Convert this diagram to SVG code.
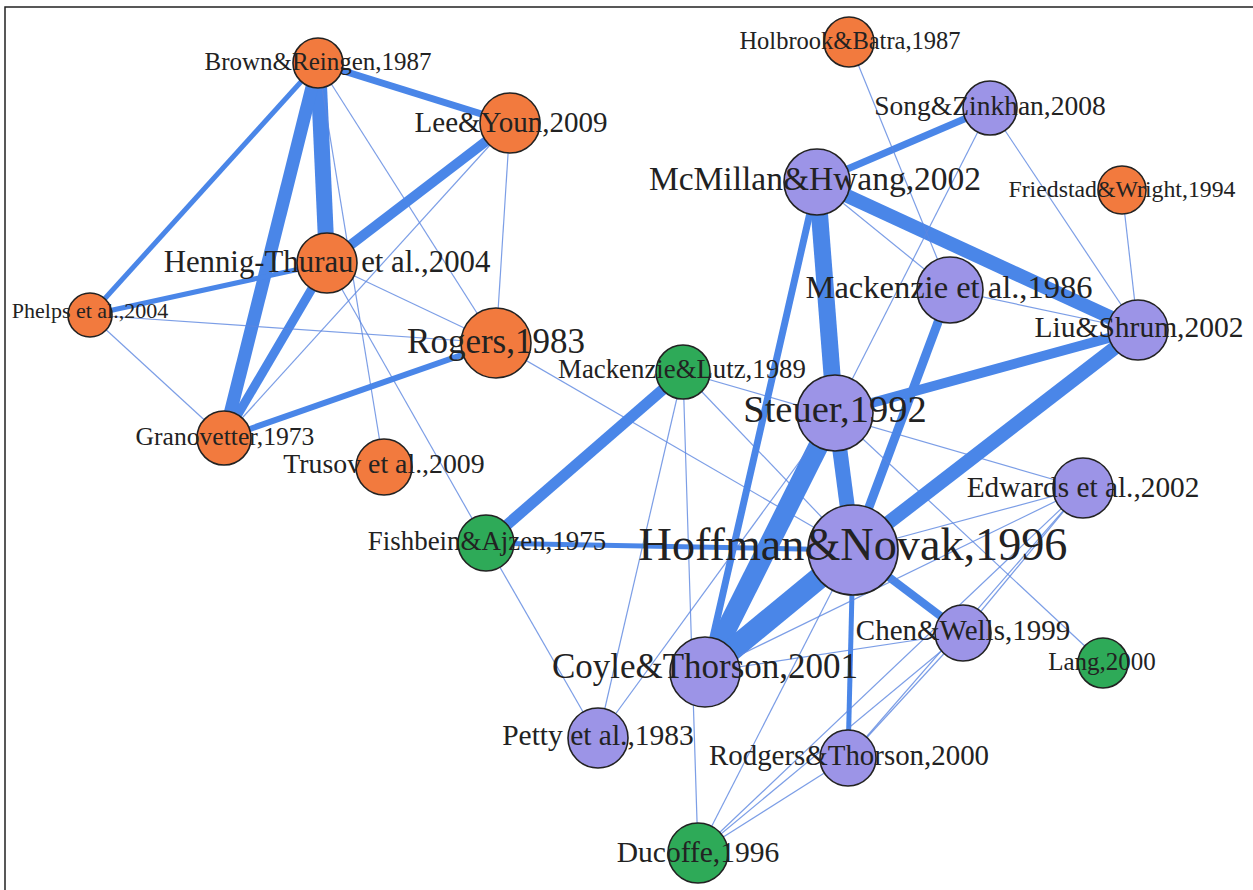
<svg xmlns="http://www.w3.org/2000/svg" width="1253" height="890" viewBox="0 0 1253 890">
<style>
.e{stroke:#4a86e8;fill:none;stroke-linecap:butt}
.t{stroke:#5b86e0;stroke-width:1.2;stroke-opacity:0.8}
.n circle{stroke:#222;stroke-width:1.6}
.o{fill:#f27a3e}.p{fill:#9c94e7}.g{fill:#2eaa58}
text{font-family:"Liberation Serif","Times New Roman",serif;fill:#222;text-anchor:middle}
</style>
<rect width="1253" height="890" fill="#fff"/>
<path d="M5,890 V7 H1253" fill="none" stroke="#222" stroke-width="1.5"/>
<g id="connectors" class="e">
<!-- orange cluster -->
<line x1="318" y1="63" x2="327" y2="263" stroke-width="16"/>
<line x1="318" y1="63" x2="224" y2="438" stroke-width="13"/>
<line x1="318" y1="63" x2="510" y2="123" stroke-width="7"/>
<line x1="318" y1="63" x2="90" y2="315" stroke-width="5"/>
<line class="t" x1="318" y1="63" x2="496" y2="343"/>
<line class="t" x1="318" y1="63" x2="384" y2="467"/>
<line x1="327" y1="263" x2="510" y2="123" stroke-width="10"/>
<line x1="327" y1="263" x2="224" y2="438" stroke-width="9"/>
<line x1="327" y1="263" x2="90" y2="315" stroke-width="5"/>
<line class="t" x1="327" y1="263" x2="496" y2="343"/>
<line class="t" x1="327" y1="263" x2="486" y2="543"/>
<line class="t" x1="510" y1="123" x2="224" y2="438"/>
<line class="t" x1="510" y1="123" x2="496" y2="343"/>
<line class="t" x1="90" y1="315" x2="496" y2="343"/>
<line class="t" x1="90" y1="315" x2="224" y2="438"/>
<line x1="224" y1="438" x2="496" y2="343" stroke-width="6"/>
<line class="t" x1="496" y1="343" x2="853" y2="550"/>
<!-- green / purple -->
<line x1="683" y1="372" x2="486" y2="543" stroke-width="11"/>
<line class="t" x1="683" y1="372" x2="1083" y2="488"/>
<line class="t" x1="683" y1="372" x2="598" y2="738"/>
<line class="t" x1="683" y1="372" x2="698" y2="853"/>
<line class="t" x1="683" y1="372" x2="853" y2="550"/>
<line x1="486" y1="543" x2="853" y2="550" stroke-width="5"/>
<line class="t" x1="486" y1="543" x2="598" y2="738"/>
<line x1="817" y1="182" x2="835" y2="413" stroke-width="17"/>
<line x1="817" y1="182" x2="1138" y2="330" stroke-width="14"/>
<line x1="817" y1="182" x2="990" y2="108" stroke-width="7"/>
<line x1="817" y1="182" x2="705" y2="672" stroke-width="7"/>
<line class="t" x1="817" y1="182" x2="950" y2="290"/>
<line class="t" x1="849" y1="42" x2="950" y2="290"/>
<line class="t" x1="990" y1="108" x2="1138" y2="330"/>
<line class="t" x1="990" y1="108" x2="835" y2="413"/>
<line class="t" x1="1122" y1="190" x2="1138" y2="330"/>
<line class="t" x1="950" y1="290" x2="1138" y2="330"/>
<line x1="950" y1="290" x2="853" y2="550" stroke-width="9"/>
<line x1="835" y1="413" x2="1138" y2="330" stroke-width="10"/>
<line x1="835" y1="413" x2="853" y2="550" stroke-width="15"/>
<line x1="835" y1="413" x2="705" y2="672" stroke-width="20"/>
<line class="t" x1="835" y1="413" x2="1103" y2="663"/>
<line class="t" x1="835" y1="413" x2="598" y2="738"/>
<line x1="853" y1="550" x2="705" y2="672" stroke-width="22"/>
<line x1="853" y1="550" x2="1138" y2="330" stroke-width="14"/>
<line x1="853" y1="550" x2="963" y2="633" stroke-width="8"/>
<line x1="853" y1="550" x2="848" y2="758" stroke-width="5"/>
<line class="t" x1="853" y1="550" x2="1083" y2="488"/>
<line class="t" x1="853" y1="550" x2="698" y2="853"/>
<line class="t" x1="1083" y1="488" x2="705" y2="672"/>
<line class="t" x1="1083" y1="488" x2="963" y2="633"/>
<line class="t" x1="1083" y1="488" x2="848" y2="758"/>
<line class="t" x1="1083" y1="488" x2="698" y2="853"/>
<line class="t" x1="963" y1="633" x2="848" y2="758"/>
<line class="t" x1="963" y1="633" x2="698" y2="853"/>
<line class="t" x1="848" y1="758" x2="698" y2="853"/>
<line class="t" x1="705" y1="672" x2="963" y2="633"/>
</g>
<g id="n-brown" class="n"><circle class="o" cx="318" cy="63" r="25"/><text x="318" y="70" font-size="25">Brown&amp;Reingen,1987</text></g>
<g id="n-lee" class="n"><circle class="o" cx="510" cy="123" r="30"/><text x="511" y="132" font-size="29">Lee&amp;Youn,2009</text></g>
<g id="n-holbrook" class="n"><circle class="o" cx="849" cy="42" r="25"/><text x="850" y="49" font-size="24.5">Holbrook&amp;Batra,1987</text></g>
<g id="n-song" class="n"><circle class="p" cx="990" cy="108" r="27"/><text x="990" y="115" font-size="27.5">Song&amp;Zinkhan,2008</text></g>
<g id="n-mcmillan" class="n"><circle class="p" cx="817" cy="182" r="33"/><text x="815" y="190" font-size="33.5">McMillan&amp;Hwang,2002</text></g>
<g id="n-friedstad" class="n"><circle class="o" cx="1122" cy="190" r="24"/><text x="1122" y="197" font-size="23.8">Friedstad&amp;Wright,1994</text></g>
<g id="n-mackenzie86" class="n"><circle class="p" cx="950" cy="290" r="33"/><text x="949" y="298" font-size="32.5">Mackenzie et al.,1986</text></g>
<g id="n-liu" class="n"><circle class="p" cx="1138" cy="330" r="30"/><text x="1139" y="337" font-size="29.5">Liu&amp;Shrum,2002</text></g>
<g id="n-hennig" class="n"><circle class="o" cx="327" cy="263" r="30"/><text x="327" y="272" font-size="30.8">Hennig-Thurau et al.,2004</text></g>
<g id="n-phelps" class="n"><circle class="o" cx="90" cy="315" r="22"/><text x="90" y="318" font-size="22">Phelps et al.,2004</text></g>
<g id="n-rogers" class="n"><circle class="o" cx="496" cy="343" r="35"/><text x="496" y="353" font-size="35">Rogers,1983</text></g>
<g id="n-granovetter" class="n"><circle class="o" cx="224" cy="438" r="27"/><text x="225" y="445" font-size="25.6">Granovetter,1973</text></g>
<g id="n-trusov" class="n"><circle class="o" cx="384" cy="467" r="28"/><text x="384" y="473" font-size="27.8">Trusov et al.,2009</text></g>
<g id="n-mlutz" class="n"><circle class="g" cx="683" cy="372" r="27"/><text x="682" y="378" font-size="26.8">Mackenzie&amp;Lutz,1989</text></g>
<g id="n-steuer" class="n"><circle class="p" cx="835" cy="413" r="38"/><text x="835" y="422" font-size="38.5">Steuer,1992</text></g>
<g id="n-fishbein" class="n"><circle class="g" cx="486" cy="543" r="28"/><text x="487" y="550" font-size="26.9">Fishbein&amp;Ajzen,1975</text></g>
<g id="n-hoffman" class="n"><circle class="p" cx="853" cy="550" r="45"/><text x="853" y="560" font-size="46.2">Hoffman&amp;Novak,1996</text></g>
<g id="n-edwards" class="n"><circle class="p" cx="1083" cy="488" r="30"/><text x="1083" y="497" font-size="29.3">Edwards et al.,2002</text></g>
<g id="n-chen" class="n"><circle class="p" cx="963" cy="633" r="28"/><text x="963" y="640" font-size="29">Chen&amp;Wells,1999</text></g>
<g id="n-lang" class="n"><circle class="g" cx="1103" cy="663" r="25"/><text x="1102" y="670" font-size="25">Lang,2000</text></g>
<g id="n-coyle" class="n"><circle class="p" cx="705" cy="672" r="35"/><text x="705" y="678" font-size="35">Coyle&amp;Thorson,2001</text></g>
<g id="n-petty" class="n"><circle class="p" cx="598" cy="738" r="30"/><text x="598" y="745" font-size="29.5">Petty et al.,1983</text></g>
<g id="n-rodgers" class="n"><circle class="p" cx="848" cy="758" r="28"/><text x="849" y="765" font-size="28.9">Rodgers&amp;Thorson,2000</text></g>
<g id="n-ducoffe" class="n"><circle class="g" cx="698" cy="853" r="30"/><text x="698" y="862" font-size="29.5">Ducoffe,1996</text></g>
</svg>
